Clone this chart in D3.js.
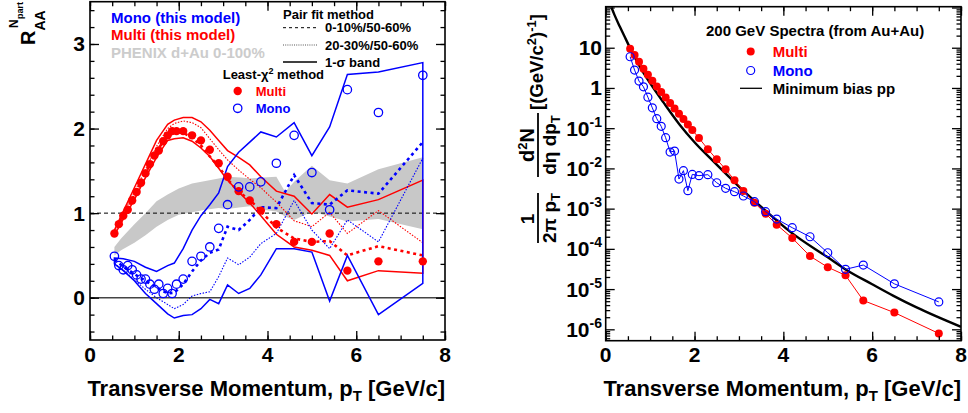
<!DOCTYPE html>
<html>
<head>
<meta charset="utf-8">
<script src="https://cdn.jsdelivr.net/npm/d3@7"></script>
<style>
  body { margin: 0; background: #fff; }
  svg text { font-family: "Liberation Sans", Arial, sans-serif; font-weight: bold; }
</style>
</head>
<body>
<svg id="chart" width="968" height="413"></svg>
<script>
// ---------- data ----------
// pT bins shared by both panels (GeV/c)
const pT = [0.55,0.65,0.75,0.85,0.95,1.05,1.15,1.25,1.35,1.45,1.55,1.65,1.75,1.85,1.95,
            2.1,2.3,2.5,2.7,2.9,3.1,3.35,3.6,3.85,4.2,4.6,5.0,5.4,5.8,6.5,7.5];

// Least-chi2 R_AA^Npart
const multiRaa = [0.76,0.87,0.97,1.04,1.15,1.25,1.36,1.47,1.58,1.68,1.74,1.85,1.92,1.97,1.97,
                  1.97,1.92,1.86,1.75,1.59,1.43,1.26,1.15,1.03,0.87,0.66,0.66,0.76,0.32,0.43,0.43];
const monoRaa  = [0.49,0.38,0.33,0.38,0.33,0.27,0.22,0.22,0.16,0.10,0.16,0.05,0.11,0.05,0.16,
                  0.22,0.43,0.49,0.60,0.82,1.10,1.31,1.31,1.37,1.59,1.92,1.48,1.04,2.46,2.19,2.63];

// pair-fit curves and 1-sigma bands
const modelPt = [0.55,0.75,1.0,1.25,1.5,1.75,1.9,2.1,2.3,2.5,2.7,2.9,3.1,3.35,3.6,3.85,4.2,4.6,5.0,5.4,5.8,6.5,7.5];
const multiHi   = [0.80,1.02,1.30,1.58,1.86,2.05,2.10,2.13,2.13,2.08,1.98,1.86,1.74,1.66,1.57,1.43,1.26,1.20,0.99,1.22,1.07,1.16,1.39];
const multiLo   = [0.74,0.93,1.16,1.42,1.66,1.86,1.88,1.89,1.85,1.77,1.67,1.53,1.39,1.25,1.12,0.97,0.75,0.60,0.56,0.50,0.20,0.32,0.29];
const multi010  = [0.76,0.97,1.21,1.47,1.73,1.92,1.96,1.95,1.89,1.80,1.67,1.55,1.40,1.25,1.16,1.02,0.83,0.70,0.66,0.67,0.50,0.61,0.50];
const multi2030 = [0.77,0.99,1.25,1.52,1.79,2.00,2.06,2.09,2.07,2.01,1.88,1.75,1.63,1.51,1.40,1.30,1.13,0.91,0.84,1.01,0.76,1.03,0.65];
const monoHi    = [0.47,0.46,0.43,0.36,0.31,0.38,0.41,0.58,0.80,0.97,1.10,1.24,1.55,1.72,1.84,1.96,1.90,2.07,1.68,2.02,2.64,2.67,2.78];
const monoLo    = [0.40,0.32,0.20,0.05,-0.07,-0.19,-0.24,-0.21,-0.20,-0.13,-0.02,-0.07,0.15,0.05,0.11,0.27,0.58,0.58,0.54,-0.04,0.50,-0.20,0.17];
const mono010   = [0.45,0.37,0.28,0.20,0.12,0.05,0.06,0.16,0.31,0.44,0.53,0.57,0.84,0.80,0.92,1.07,1.06,1.45,1.12,1.10,1.27,1.23,1.84];
const mono2030  = [0.40,0.33,0.21,0.10,0.00,-0.08,-0.13,-0.08,0.02,0.05,0.07,0.25,0.47,0.39,0.48,0.64,0.76,1.15,0.80,0.58,0.92,0.66,1.65];

// PHENIX d+Au 0-100% band
const dauPt = [0.55,0.7,1.0,1.25,1.5,1.75,2.0,2.3,2.6,2.9,3.1,3.4,3.6,3.9,4.2,4.4,4.6,5.0,5.4,5.8,6.5,7.5];
const dauLo = [0.50,0.56,0.65,0.74,0.84,0.92,0.98,1.01,1.04,1.06,1.05,1.07,1.08,1.04,1.02,0.96,0.92,1.02,0.96,0.90,0.93,0.81];
const dauHi = [0.60,0.70,0.87,1.00,1.14,1.22,1.29,1.35,1.38,1.41,1.43,1.42,1.41,1.42,1.43,1.25,1.37,1.56,1.39,1.35,1.52,1.66];

// 200 GeV spectra, 1/(2pi pT) d2N/(deta dpT)
const multiSpec = [9.4,6.6,4.5,3.0,2.13,1.51,1.09,0.79,0.58,0.42,0.31,0.229,0.169,0.124,0.090,
                   0.057,0.030,0.0168,0.0095,0.0051,0.00274,0.0014,7.5e-4,4.0e-4,1.86e-4,6.6e-5,3.5e-5,2.2e-5,5.2e-6,2.6e-6,7.9e-7];
const monoSpec  = [5.97,2.79,1.48,1.07,0.59,0.32,0.172,0.111,0.058,0.0255,0.027,0.00544,0.0088,0.0028,0.0071,
                   0.0066,0.0070,0.0044,0.0032,0.00264,0.00206,0.00149,8.4e-4,5.5e-4,3.36e-4,2.0e-4,8.0e-5,3.1e-5,3.96e-5,1.35e-5,4.8e-6];
// minimum bias pp reference curve
const ppPt    = [0.13,0.2,0.32,0.45,0.55,0.8,1.0,1.3,1.67,2.0,2.42,3.0,3.6,4.15,5.0,5.43,6.0,6.48,7.0,8.0];
const ppYield = [100,64.6,33.1,16.6,9.77,2.95,1.32,0.437,0.120,0.0447,0.0151,0.00355,8.9e-4,2.69e-4,6.17e-5,2.95e-5,1.32e-5,6.8e-6,3.5e-6,1.15e-6];

// axis ticks
const xLabels = [0,2,4,6,8];
const raaLabels = [0,1,2,3];
const logLabels = [1e-6,1e-5,1e-4,1e-3,1e-2,1e-1,1,10];

// ---------- layout ----------
const RED = "#ff0000", BLUE = "#0000ff";
const svg = d3.select("#chart");

const L = {x0: 90, x1: 445, y0: 340, y1: 1.7};
const R = {x0: 605.7, x1: 961, y0: 340.7, y1: 6.7};

const xL = d3.scaleLinear().domain([0, 8]).range([L.x0, L.x1]);
const yL = d3.scaleLinear().domain([-0.5, 3.5]).range([L.y0, L.y1]);
const xR = d3.scaleLinear().domain([0, 8]).range([R.x0, R.x1]);
const yR = d3.scaleLog().domain([Math.pow(10, -6.283), Math.pow(10, 2.02)]).range([R.y0, R.y1]);

const defs = svg.append("defs");
defs.append("clipPath").attr("id", "clipL").append("rect")
  .attr("x", L.x0).attr("y", L.y1).attr("width", L.x1 - L.x0).attr("height", L.y0 - L.y1);
defs.append("clipPath").attr("id", "clipR").append("rect")
  .attr("x", R.x0).attr("y", R.y1).attr("width", R.x1 - R.x0).attr("height", R.y0 - R.y1);

function ticks(g, P, x, y, xMinor, xMajor, yMinor, yMajor) {
  const sets = [
    [d3.axisBottom, x, xMinor, 4.5, `translate(0,${P.y0})`],
    [d3.axisBottom, x, xMajor, 9, `translate(0,${P.y0})`],
    [d3.axisTop, x, xMinor, 4.5, `translate(0,${P.y1})`],
    [d3.axisTop, x, xMajor, 9, `translate(0,${P.y1})`],
    [d3.axisLeft, y, yMinor, 4.5, `translate(${P.x0},0)`],
    [d3.axisLeft, y, yMajor, 9, `translate(${P.x0},0)`],
    [d3.axisRight, y, yMinor, 4.5, `translate(${P.x1},0)`],
    [d3.axisRight, y, yMajor, 9, `translate(${P.x1},0)`]
  ];
  sets.forEach(([ax, sc, vals, len, tr]) => {
    const a = g.append("g").attr("transform", tr)
      .call(ax(sc).tickValues(vals).tickSize(-len).tickFormat(""));
    a.select(".domain").remove();
    a.selectAll("line").attr("stroke", "#000").attr("stroke-width", 1.3);
  });
  g.append("rect").attr("x", P.x0).attr("y", P.y1)
    .attr("width", P.x1 - P.x0).attr("height", P.y0 - P.y1)
    .attr("fill", "none").attr("stroke", "#000").attr("stroke-width", 1.6);
}

function xTitle(P) {
  const t = svg.append("text").attr("x", P.x1).attr("y", 396)
    .attr("text-anchor", "end").attr("font-size", 22);
  t.append("tspan").text("Transverse Momentum, p");
  t.append("tspan").attr("font-size", 15).attr("dy", 5).text("T");
  t.append("tspan").attr("dy", -5).text(" [GeV/c]");
}

// ---------- left panel: R_AA ----------
const gL = svg.append("g");
const plotL = gL.append("g").attr("clip-path", "url(#clipL)");
const lineL = d3.line().x(d => xL(d[0])).y(d => yL(d[1]));
const areaL = d3.area().x(d => xL(d[0])).y0(d => yL(d[1])).y1(d => yL(d[2]));

plotL.append("path").datum(d3.zip(dauPt, dauLo, dauHi))
  .attr("d", areaL).attr("fill", "#c8c8c8").attr("stroke", "none");

plotL.append("line").attr("x1", L.x0).attr("x2", L.x1).attr("y1", yL(1)).attr("y2", yL(1))
  .attr("stroke", "#000").attr("stroke-width", 1).attr("stroke-dasharray", "4,3");
plotL.append("line").attr("x1", L.x0).attr("x2", L.x1).attr("y1", yL(0)).attr("y2", yL(0))
  .attr("stroke", "#444").attr("stroke-width", 1.6);

function band(hi, lo, color) {
  const pts = d3.zip(modelPt, hi).concat(d3.zip(modelPt, lo).reverse());
  plotL.append("path").attr("d", lineL(pts) + "Z")
    .attr("fill", "none").attr("stroke", color).attr("stroke-width", 1.5);
}
function curve(vals, color, width, dash) {
  plotL.append("path").datum(d3.zip(modelPt, vals)).attr("d", lineL)
    .attr("fill", "none").attr("stroke", color).attr("stroke-width", width)
    .attr("stroke-dasharray", dash);
}
band(multiHi, multiLo, RED);
curve(multi2030, RED, 1.1, "1.5,1.5");
curve(multi010, RED, 2.6, "3,3.5");
band(monoHi, monoLo, BLUE);
curve(mono2030, BLUE, 1.1, "1.5,1.5");
curve(mono010, BLUE, 2.6, "3,3.5");

plotL.selectAll("circle.multi").data(d3.zip(pT, multiRaa)).enter().append("circle")
  .attr("cx", d => xL(d[0])).attr("cy", d => yL(d[1])).attr("r", 4.2).attr("fill", RED);
plotL.selectAll("circle.mono").data(d3.zip(pT, monoRaa)).enter().append("circle")
  .attr("cx", d => xL(d[0])).attr("cy", d => yL(d[1])).attr("r", 4.2)
  .attr("fill", "none").attr("stroke", BLUE).attr("stroke-width", 1.3);

ticks(gL, L, xL, yL,
  d3.range(0, 8.01, 0.5), xLabels,
  d3.range(-0.4, 3.41, 0.2).map(v => Math.round(v * 10) / 10), raaLabels);

xLabels.forEach(v => gL.append("text").attr("x", xL(v)).attr("y", 362)
  .attr("text-anchor", "middle").attr("font-size", 21).text(v));
raaLabels.forEach(v => gL.append("text").attr("x", 85).attr("y", yL(v) + 7.5)
  .attr("text-anchor", "end").attr("font-size", 21).text(v));
xTitle(L);

// y title R_AA^Npart
const yt = gL.append("g").attr("transform", "translate(35,45) rotate(-90)");
yt.append("text").attr("x", 0).attr("y", 0).attr("font-size", 20).text("R");
yt.append("text").attr("x", 14.5).attr("y", 10).attr("font-size", 14).text("AA");
yt.append("text").attr("x", 17).attr("y", -17).attr("font-size", 12).text("N");
yt.append("text").attr("x", 26).attr("y", -12).attr("font-size", 9).text("part");

// legend, left panel
const lg = gL.append("g");
lg.append("text").attr("x", 111).attr("y", 22.7).attr("font-size", 15).attr("fill", BLUE).text("Mono (this model)");
lg.append("text").attr("x", 111).attr("y", 39.7).attr("font-size", 15).attr("fill", RED).text("Multi (this model)");
lg.append("text").attr("x", 111).attr("y", 57.7).attr("font-size", 15).attr("fill", "#cccccc").text("PHENIX d+Au 0-100%");

lg.append("text").attr("x", 283).attr("y", 19).attr("font-size", 13).text("Pair fit method");
const legRows = [
  {y: 27.7, label: "0-10%/50-60%", dash: "3,3", w: 1, c: "#000"},
  {y: 45, label: "20-30%/50-60%", dash: "1,1.2", w: 1, c: "#555"},
  {y: 62, label: "1-σ band", dash: null, w: 1.3, c: "#000"}
];
legRows.forEach(r => {
  lg.append("line").attr("x1", 283).attr("x2", 317).attr("y1", r.y).attr("y2", r.y)
    .attr("stroke", r.c).attr("stroke-width", r.w).attr("stroke-dasharray", r.dash);
  lg.append("text").attr("x", 325).attr("y", r.y + 4.6).attr("font-size", 13).text(r.label);
});
const chi = lg.append("text").attr("x", 222.7).attr("y", 79).attr("font-size", 13);
chi.append("tspan").text("Least-χ");
chi.append("tspan").attr("font-size", 9).attr("dy", -5).text("2");
chi.append("tspan").attr("dy", 5).text(" method");
lg.append("circle").attr("cx", 237.7).attr("cy", 91).attr("r", 4.2).attr("fill", RED);
lg.append("text").attr("x", 255.7).attr("y", 95.6).attr("font-size", 13).attr("fill", RED).text("Multi");
lg.append("circle").attr("cx", 237.7).attr("cy", 108.3).attr("r", 4.2)
  .attr("fill", "none").attr("stroke", BLUE).attr("stroke-width", 1.3);
lg.append("text").attr("x", 255.7).attr("y", 113).attr("font-size", 13).attr("fill", BLUE).text("Mono");

// ---------- right panel: spectra ----------
const gR = svg.append("g");
const plotR = gR.append("g").attr("clip-path", "url(#clipR)");
const lineR = d3.line().x(d => xR(d[0])).y(d => yR(d[1]));

plotR.append("path").datum(d3.zip(ppPt, ppYield))
  .attr("d", lineR.curve(d3.curveMonotoneX)).attr("fill", "none")
  .attr("stroke", "#000").attr("stroke-width", 2.4);
lineR.curve(d3.curveLinear);

plotR.append("path").datum(d3.zip(pT, multiSpec)).attr("d", lineR)
  .attr("fill", "none").attr("stroke", RED).attr("stroke-width", 1);
plotR.selectAll("circle.multi").data(d3.zip(pT, multiSpec)).enter().append("circle")
  .attr("cx", d => xR(d[0])).attr("cy", d => yR(d[1])).attr("r", 4).attr("fill", RED);
plotR.append("path").datum(d3.zip(pT, monoSpec)).attr("d", lineR)
  .attr("fill", "none").attr("stroke", BLUE).attr("stroke-width", 1);
plotR.selectAll("circle.mono").data(d3.zip(pT, monoSpec)).enter().append("circle")
  .attr("cx", d => xR(d[0])).attr("cy", d => yR(d[1])).attr("r", 4)
  .attr("fill", "none").attr("stroke", BLUE).attr("stroke-width", 1.2);

const logMinor = [];
for (let e = -7; e <= 2; e++) for (let m = 2; m <= 9; m++) {
  const v = m * Math.pow(10, e);
  if (v >= yR.domain()[0] && v <= yR.domain()[1]) logMinor.push(v);
}
ticks(gR, R, xR, yR, d3.range(0, 8.01, 0.5), xLabels, logMinor, logLabels.concat([100]));

xLabels.forEach(v => gR.append("text").attr("x", xR(v)).attr("y", 362)
  .attr("text-anchor", "middle").attr("font-size", 21).text(v));
logLabels.forEach(v => {
  const e = Math.round(Math.log10(v));
  const t = gR.append("text").attr("x", 602).attr("y", yR(v) + 7.5)
    .attr("text-anchor", "end").attr("font-size", 21);
  if (e === 0) t.text("1");
  else if (e === 1) t.text("10");
  else {
    t.append("tspan").text("10");
    t.append("tspan").attr("font-size", 14).attr("dy", -9).text(String(e));
  }
});
xTitle(R);

// y title 1/(2pi pT) d2N/(deta dpT) [(GeV/c2)^-1]
const yr = gR.append("g").attr("transform", "translate(538,245) rotate(-90)");
yr.append("text").attr("x", 26).attr("y", -4).attr("text-anchor", "middle").attr("font-size", 19).text("1");
yr.append("line").attr("x1", 2).attr("x2", 52).attr("y1", 0).attr("y2", 0).attr("stroke", "#000").attr("stroke-width", 1.8);
const den1 = yr.append("text").attr("x", 27).attr("y", 17.5).attr("text-anchor", "middle").attr("font-size", 19);
den1.append("tspan").text("2π p");
den1.append("tspan").attr("font-size", 13).attr("dy", 4).text("T");
const num2 = yr.append("text").attr("x", 100).attr("y", -4).attr("text-anchor", "middle").attr("font-size", 20);
num2.append("tspan").text("d");
num2.append("tspan").attr("font-size", 13).attr("dy", -7).text("2");
num2.append("tspan").attr("dy", 7).text("N");
yr.append("line").attr("x1", 68).attr("x2", 132).attr("y1", 0).attr("y2", 0).attr("stroke", "#000").attr("stroke-width", 1.8);
const den2 = yr.append("text").attr("x", 100).attr("y", 17.5).attr("text-anchor", "middle").attr("font-size", 19);
den2.append("tspan").text("dη dp");
den2.append("tspan").attr("font-size", 13).attr("dy", 4).text("T");
const unit = yr.append("text").attr("x", 135).attr("y", 5).attr("font-size", 18.5);
unit.append("tspan").text("[(GeV/c");
unit.append("tspan").attr("font-size", 13).attr("dy", -7).text("2");
unit.append("tspan").attr("dy", 7).text(")");
unit.append("tspan").attr("font-size", 13).attr("dy", -7).text("-1");
unit.append("tspan").attr("dy", 7).text("]");

// legend, right panel
const rg = gR.append("g");
rg.append("text").attr("x", 706).attr("y", 36.4).attr("font-size", 15).text("200 GeV Spectra (from Au+Au)");
rg.append("circle").attr("cx", 750.7).attr("cy", 51.5).attr("r", 4).attr("fill", RED);
rg.append("text").attr("x", 772.7).attr("y", 57).attr("font-size", 15).attr("fill", RED).text("Multi");
rg.append("circle").attr("cx", 750.7).attr("cy", 70.5).attr("r", 4)
  .attr("fill", "none").attr("stroke", BLUE).attr("stroke-width", 1.2);
rg.append("text").attr("x", 772.7).attr("y", 76.4).attr("font-size", 15).attr("fill", BLUE).text("Mono");
rg.append("line").attr("x1", 740).attr("x2", 762).attr("y1", 88.3).attr("y2", 88.3)
  .attr("stroke", "#000").attr("stroke-width", 1.3);
rg.append("text").attr("x", 772.7).attr("y", 93.7).attr("font-size", 15).text("Minimum bias pp");
</script>
</body>
</html>
